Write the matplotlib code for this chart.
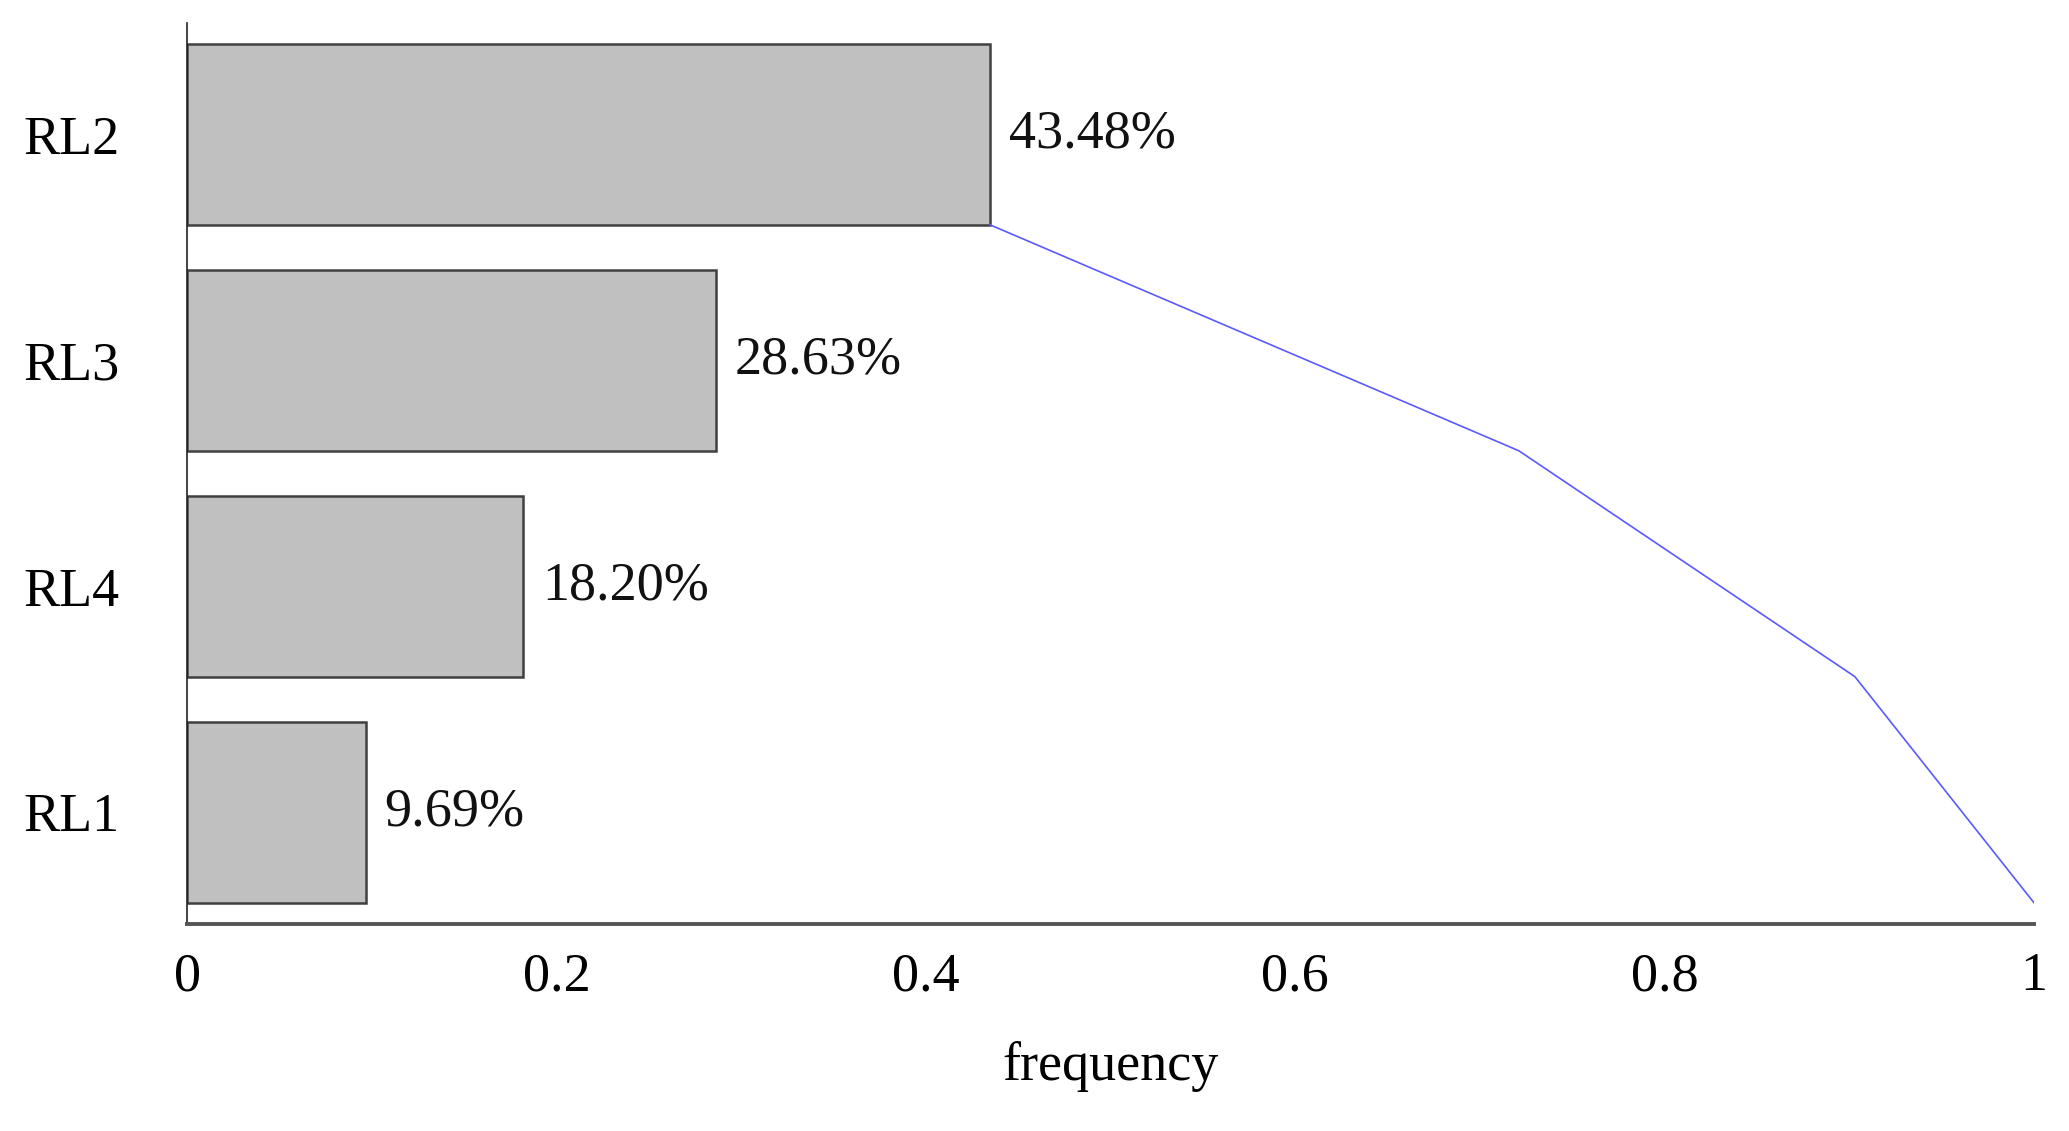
import matplotlib
matplotlib.use("Agg")
import matplotlib.pyplot as plt
import numpy as np

categories = ["RL2", "RL3", "RL4", "RL1"]
frequencies = [0.4348, 0.2863, 0.1820, 0.0969]
labels = ["43.48%", "28.63%", "18.20%", "9.69%"]
xticks = [0, 0.2, 0.4, 0.6, 0.8, 1]
xticklabels = ["0", "0.2", "0.4", "0.6", "0.8", "1"]

plt.rcParams['font.family'] = ['Liberation Serif', 'DejaVu Serif']

fig = plt.figure(figsize=(20.69, 11.31), dpi=100)
ax = fig.add_axes([0.0904, 0.183, 0.8926, 0.797])

n = len(categories)
ypos = np.arange(n)[::-1]  # top to bottom
bar_h = 0.8
ax.barh(ypos, frequencies, height=bar_h, color='#c0c0c0', edgecolor='#404040',
        linewidth=1.8, zorder=2)

for y, v, lab in zip(ypos, frequencies, labels):
    ax.annotate(lab, xy=(v, y), xytext=(13.5, 0), textcoords='offset points',
                ha='left', va='center', fontsize=39, color='#111111')

cum = np.cumsum(frequencies)
ax.plot(cum, ypos - bar_h / 2, color='#5a5aff', linewidth=1.2, zorder=3)

ax.set_xlim(0, 1)
ax.set_ylim(-0.495, n - 0.505)
ax.set_yticks(ypos)
ax.set_yticklabels(categories, fontsize=39)
ax.set_xticks(xticks)
ax.set_xticklabels(xticklabels, fontsize=39)
ax.tick_params(axis='x', length=0, pad=20)
for lab in ax.get_yticklabels():
    lab.set_ha('left')
ax.tick_params(axis='y', length=0, pad=118)

for s in ['top', 'right']:
    ax.spines[s].set_visible(False)
ax.spines['bottom'].set_color('#555555')
ax.spines['bottom'].set_linewidth(2.8)
ax.spines['left'].set_color('#222222')
ax.spines['left'].set_linewidth(1.2)

ax.set_xlabel("frequency", fontsize=39)
ax.xaxis.set_label_coords(0.5, -0.1586)
ax.xaxis.label.set_va('center')

fig.savefig("out.png", dpi=100, facecolor='white')
